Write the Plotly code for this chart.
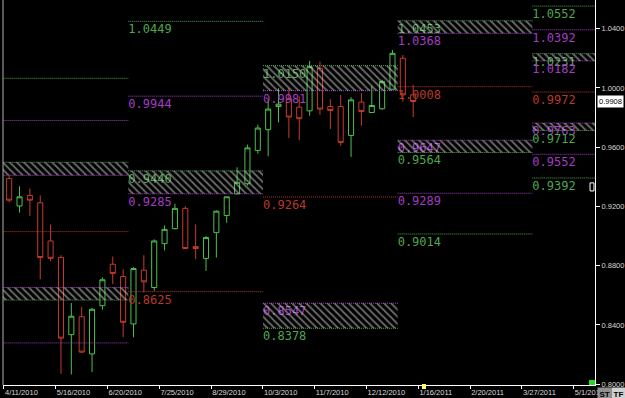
import plotly.graph_objects as go
import pandas as pd

# ---------------- data ----------------
week_start = pd.date_range("2010-04-11", periods=40, freq="7D")
candle_x = week_start + pd.Timedelta(hours=84)

opens = [0.9388, 0.9203, 0.9274, 0.9225, 0.8967, 0.8855, 0.8335, 0.8456, 0.8205, 0.8530,
         0.8810, 0.8727, 0.8407, 0.8770, 0.8653, 0.8949, 0.9050, 0.9187, 0.8929, 0.8849,
         0.9023, 0.9139, 0.9285, 0.9353, 0.9578, 0.9718, 0.9874, 0.9926, 0.9870, 0.9845,
         1.0132, 0.9874, 0.9874, 0.9679, 0.9904, 0.9834, 0.9859, 0.9991, 1.0200, 0.9953]
highs = [0.9408, 0.9336, 0.9321, 0.9274, 0.9079, 0.8871, 0.8548, 0.8521, 0.8514, 0.8721,
         0.8862, 0.8776, 0.8790, 0.8871, 0.8978, 0.9072, 0.9218, 0.9202, 0.9079, 0.9000,
         0.9173, 0.9267, 0.9464, 0.9617, 0.9751, 0.9924, 0.9998, 1.0000, 0.9942, 1.0182,
         1.0177, 0.9924, 0.9953, 0.9937, 0.9964, 1.0013, 1.0054, 1.0255, 1.0222, 1.0020]
lows = [0.9227, 0.9158, 0.9135, 0.8709, 0.8830, 0.8071, 0.8066, 0.8210, 0.8082, 0.8503,
        0.8676, 0.8317, 0.8317, 0.8620, 0.8631, 0.8904, 0.9045, 0.8911, 0.8844, 0.8765,
        0.8855, 0.9090, 0.9281, 0.9341, 0.9556, 0.9538, 0.9767, 0.9662, 0.9646, 0.9812,
        0.9818, 0.9722, 0.9610, 0.9534, 0.9745, 0.9832, 0.9852, 0.9987, 0.9908, 0.9803]
closes = [0.9242, 0.9265, 0.9242, 0.8855, 0.8850, 0.8311, 0.8459, 0.8217, 0.8506, 0.8705,
          0.8748, 0.8418, 0.8781, 0.8691, 0.8967, 0.9045, 0.9187, 0.8916, 0.8916, 0.8990,
          0.9168, 0.9265, 0.9363, 0.9595, 0.9729, 0.9857, 0.9890, 0.9803, 0.9792, 1.0143,
          0.9857, 0.9847, 0.9632, 0.9919, 0.9841, 0.9881, 1.0042, 1.0233, 0.9953, 0.9908]

seg_edges = ["2010-04-04", "2010-07-04", "2010-10-03", "2011-01-02", "2011-04-03", "2011-07-03"]
seg_levels = [
    [1.0065, 0.9780, 0.9498, 0.9410, 0.9030, 0.8653, 0.8568, 0.8279],
    [1.0449, 0.9944, 0.9440, 0.9285, 0.8625],
    [1.0150, 0.9981, 0.9264, 0.8547, 0.8378],
    [1.0453, 1.0368, 1.0008, 0.9647, 0.9564, 0.9289, 0.9014],
    [1.0552, 1.0392, 1.0231, 1.0182, 0.9972, 0.9763, 0.9712, 0.9552, 0.9392],
]
seg_kinds = [
    ["g", "p", "g", "p", "r", "p", "g", "p"],
    ["g", "p", "g", "p", "r"],
    ["g", "p", "r", "p", "g"],
    ["g", "p", "r", "p", "g", "p", "g"],
    ["g", "p", "g", "p", "r", "p", "g", "p", "g"],
]
seg_zones = [
    [(0.9498, 0.9410), (0.8653, 0.8568)],
    [(0.9440, 0.9285)],
    [(1.0150, 0.9981), (0.8547, 0.8378)],
    [(1.0453, 1.0368), (0.9647, 0.9564)],
    [(1.0231, 1.0182), (0.9763, 0.9712)],
]
seg_labeled = [False, True, True, True, True]

x_ticks = pd.date_range("2010-04-11", periods=12, freq="35D")
x_ticktext = [f"{d.month}/{d.day}/{d.year}" for d in x_ticks]
y_ticks = [0.80, 0.84, 0.88, 0.92, 0.96, 1.00, 1.04]
y_ticktext = [f"{v:.4f}" for v in y_ticks]
last_price = 0.9908

# ---------------- styles ----------------
COL = {"g": "#4ea64e", "p": "#a43cc4", "r": "#b8382a"}
UP = "#4cc04c"
DOWN = "#c63a2c"
Y_RANGE = [0.7995, 1.0593]
PLOT_H = 385
LABEL_DROP_PX = 3
label_drop = LABEL_DROP_PX * (Y_RANGE[1] - Y_RANGE[0]) / PLOT_H

fig = go.Figure()

# level lines
for i, lv in enumerate(seg_levels):
    s, e = seg_edges[i], seg_edges[i + 1]
    for v, k in zip(lv, seg_kinds[i]):
        fig.add_trace(go.Scatter(x=[s, e], y=[v, v], mode="lines",
                                 line=dict(color=COL[k], width=1, dash="1px,1px"),
                                 hoverinfo="skip"))

# labels (under hatch)
for i, lv in enumerate(seg_levels):
    if not seg_labeled[i]:
        continue
    s = seg_edges[i]
    fig.add_trace(go.Scatter(x=[s] * len(lv), y=[v - label_drop for v in lv], mode="text",
                             text=[f"{v:.4f}" for v in lv],
                             textposition="bottom right",
                             textfont=dict(family="DejaVu Sans Mono", size=12,
                                           color=[COL[k] for k in seg_kinds[i]]),
                             hoverinfo="skip"))

# hatched zones
for i, zones in enumerate(seg_zones):
    s, e = seg_edges[i], seg_edges[i + 1]
    for top, bot in zones:
        fig.add_trace(go.Scatter(x=[s, e, e, s, s], y=[top, top, bot, bot, top],
                                 mode="none", fill="toself",
                                 fillcolor="rgba(0,0,0,0)",
                                 fillpattern=dict(shape="\\", fgcolor="#d8d8d8",
                                                  bgcolor="rgba(0,0,0,0)", size=5,
                                                  solidity=0.35),
                                 hoverinfo="skip"))

# candles
fig.add_trace(go.Candlestick(
    x=candle_x, open=opens, high=highs, low=lows, close=closes,
    increasing=dict(line=dict(color=UP, width=1), fillcolor="black"),
    decreasing=dict(line=dict(color=DOWN, width=1), fillcolor="black"),
    whiskerwidth=0,
))

fig.update_layout(
    width=625, height=398,
    margin=dict(l=3, r=30, t=0, b=13),
    paper_bgcolor="black", plot_bgcolor="black",
    showlegend=False,
    xaxis=dict(type="date", range=["2010-04-10 08:00", "2011-05-15 08:00"],
               rangeslider=dict(visible=False), showgrid=False, zeroline=False,
               tickvals=x_ticks, ticktext=x_ticktext, ticks="outside", ticklen=3,
               tickcolor="white", showline=True, linecolor="white", linewidth=1,
               ticklabelposition="outside right",
               tickfont=dict(family="Liberation Sans", size=7.5, color="#d8d8d8")),
    yaxis=dict(side="right", range=Y_RANGE, showgrid=False, zeroline=False,
               tickvals=y_ticks, ticktext=y_ticktext, ticks="outside", ticklen=4,
               tickcolor="white", showline=True, linecolor="white", linewidth=1,
               tickfont=dict(family="Liberation Sans", size=7.5, color="#d8d8d8")),
)

# left border
fig.add_shape(type="line", xref="paper", yref="paper", x0=0, x1=0, y0=0, y1=1,
              line=dict(color="#b0b0b0", width=1))
# small markers
fig.add_shape(type="rect", xref="paper", yref="paper", x0=0.9899, x1=1.0, y0=0.0, y1=0.013,
              fillcolor="#22dd22", line=dict(width=0))
fig.add_shape(type="rect", xref="paper", yref="paper", x0=0.9916, x1=0.9983, y0=0.504, y1=0.525,
              fillcolor="black", line=dict(color="white", width=1))
fig.add_shape(type="rect", xref="paper", yref="paper", x0=0.7078, x1=0.7145, y0=-0.0104, y1=0.0026,
              fillcolor="#ffff66", line=dict(width=0))

# current price box
fig.add_annotation(x=1, xref="paper", y=last_price, yref="y", xanchor="left", xshift=2,
                   text=f"{last_price:.4f}", showarrow=False, bgcolor="white",
                   font=dict(family="Liberation Sans", size=7.5, color="black"), borderpad=1)
# ST / TF boxes
fig.add_annotation(x=1, xref="paper", y=0, yref="paper", xanchor="left", yanchor="top",
                   xshift=2, yshift=-2, text="<b>ST</b>", showarrow=False, bgcolor="#909090",
                   font=dict(family="Liberation Sans", size=8, color="black"), borderpad=1.5)
fig.add_annotation(x=1, xref="paper", y=0, yref="paper", xanchor="left", yanchor="top",
                   xshift=16, yshift=-2, text="<b>TF</b>", showarrow=False, bgcolor="#d0d0d0",
                   font=dict(family="Liberation Sans", size=8, color="black"), borderpad=1.5)

fig.write_html("out.html")
